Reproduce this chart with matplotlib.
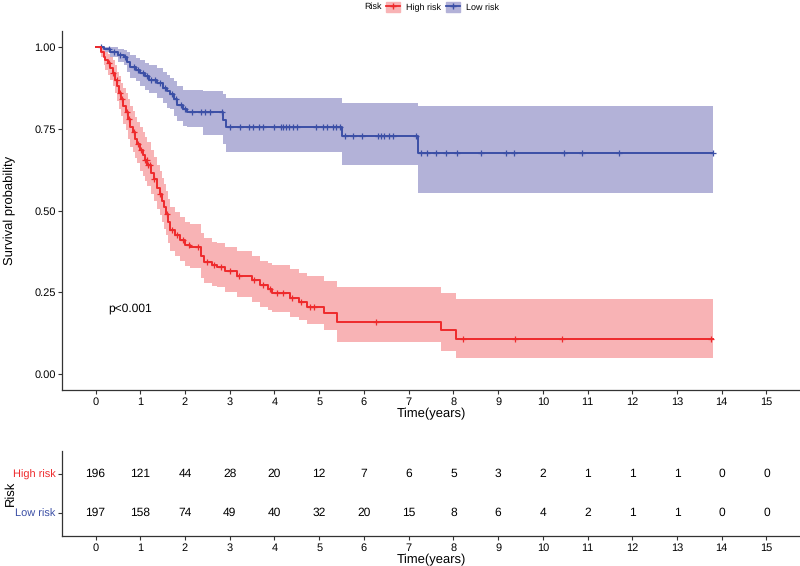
import numpy as np
import matplotlib.pyplot as plt
from matplotlib.patches import Patch
from matplotlib.lines import Line2D

plt.rcParams['font.family'] = ['Liberation Sans', 'DejaVu Sans']
plt.rcParams['text.hinting'] = 'no_hinting'
plt.rcParams['text.hinting_factor'] = 1

# Kaplan-Meier steps: (time, survival, lower CI, upper CI)
high_time = [0, 0.12, 0.18, 0.22, 0.28, 0.33, 0.38, 0.43, 0.48, 0.53, 0.58, 0.62, 0.67, 0.72,
             0.78, 0.83, 0.88, 0.93, 1.0, 1.05, 1.1, 1.15, 1.23, 1.3, 1.38, 1.43, 1.48, 1.53,
             1.58, 1.63, 1.67, 1.78, 1.88, 2.0, 2.12, 2.36, 2.42, 2.6, 2.72, 2.9, 3.16, 3.5,
             3.68, 3.85, 3.95, 4.35, 4.55, 4.72, 5.1, 5.39, 7.73, 8.07, 13.8]
high_surv = [1.0, 0.985, 0.97, 0.96, 0.95, 0.935, 0.92, 0.90, 0.88, 0.86, 0.84, 0.82, 0.80, 0.78,
             0.755, 0.74, 0.72, 0.705, 0.685, 0.67, 0.655, 0.64, 0.615, 0.595, 0.57, 0.55, 0.53, 0.51,
             0.49, 0.465, 0.44, 0.425, 0.41, 0.395, 0.39, 0.36, 0.343, 0.335, 0.328, 0.315, 0.30, 0.287,
             0.272, 0.26, 0.247, 0.232, 0.22, 0.205, 0.186, 0.16, 0.135, 0.107, 0.107]
high_lower = [1.0, 0.97, 0.945, 0.93, 0.915, 0.9, 0.88, 0.86, 0.835, 0.81, 0.79, 0.765, 0.745, 0.72,
              0.695, 0.68, 0.66, 0.645, 0.62, 0.605, 0.59, 0.575, 0.55, 0.53, 0.505, 0.485, 0.465, 0.445,
              0.425, 0.40, 0.375, 0.36, 0.345, 0.33, 0.325, 0.295, 0.28, 0.27, 0.265, 0.25, 0.235, 0.22,
              0.205, 0.197, 0.19, 0.175, 0.165, 0.153, 0.135, 0.098, 0.07, 0.049, 0.049]
high_upper = [1.0, 1.0, 0.995, 0.985, 0.98, 0.97, 0.96, 0.945, 0.925, 0.91, 0.89, 0.875, 0.86, 0.84,
              0.82, 0.805, 0.785, 0.77, 0.755, 0.74, 0.725, 0.71, 0.685, 0.665, 0.64, 0.62, 0.60, 0.58,
              0.56, 0.535, 0.51, 0.495, 0.48, 0.465, 0.46, 0.43, 0.415, 0.405, 0.40, 0.39, 0.375, 0.36,
              0.345, 0.34, 0.335, 0.32, 0.31, 0.30, 0.284, 0.266, 0.248, 0.23, 0.23]
high_censor = [0.3, 0.4, 0.47, 0.55, 0.6, 0.7, 0.75, 0.85, 0.95, 1.02, 1.1, 1.14, 1.18, 1.22, 1.3,
               1.45, 1.6, 1.7, 1.82, 1.95, 2.1, 2.3, 2.5, 2.65, 2.8, 3.0, 3.2, 3.55, 3.75, 3.9,
               4.05, 4.2, 4.4, 4.6, 4.8, 4.88, 6.28, 8.22, 9.38, 10.43, 13.77]

low_time = [0, 0.2, 0.33, 0.5, 0.63, 0.7, 0.78, 0.9, 1.0, 1.1, 1.2, 1.38, 1.5, 1.6, 1.67, 1.75,
            1.83, 1.95, 2.05, 2.4, 2.85, 2.92, 5.52, 7.22, 13.8]
low_surv = [1.0, 0.995, 0.985, 0.975, 0.97, 0.955, 0.94, 0.93, 0.92, 0.91, 0.90, 0.89, 0.875, 0.865,
            0.855, 0.84, 0.823, 0.81, 0.80, 0.80, 0.777, 0.755, 0.728, 0.676, 0.676]
low_lower = [1.0, 0.985, 0.97, 0.955, 0.945, 0.925, 0.905, 0.895, 0.88, 0.87, 0.86, 0.845, 0.83, 0.815,
             0.81, 0.79, 0.775, 0.76, 0.755, 0.73, 0.705, 0.68, 0.64, 0.554, 0.554]
low_upper = [1.0, 1.0, 1.0, 0.995, 0.99, 0.985, 0.975, 0.965, 0.96, 0.95, 0.945, 0.935, 0.925, 0.915,
             0.905, 0.895, 0.88, 0.87, 0.87, 0.865, 0.855, 0.843, 0.83, 0.82, 0.82]
low_censor = [0.12, 0.3, 0.42, 0.55, 0.66, 0.85, 0.95, 1.05, 1.15, 1.25, 1.33, 1.45, 1.55, 1.7, 1.8,
              1.9, 2.0, 2.15, 2.35, 2.45, 2.56, 2.83, 3.0, 3.23, 3.43, 3.52, 3.65, 3.74, 3.99,
              4.14, 4.19, 4.26, 4.32, 4.41, 4.5, 4.92, 5.08, 5.17, 5.3, 5.37, 5.46, 5.57, 5.75,
              5.95, 6.31, 6.38, 6.46, 6.55, 6.64, 7.17, 7.27, 7.4, 7.62, 7.84, 8.09, 8.62, 9.18,
              9.36, 10.47, 10.88, 11.7, 13.8]

table_times = list(range(16))
high_risk_n = [196, 121, 44, 28, 20, 12, 7, 6, 5, 3, 2, 1, 1, 1, 0, 0]
low_risk_n = [197, 158, 74, 49, 40, 32, 20, 15, 8, 6, 4, 2, 1, 1, 0, 0]

red, red_fill = '#EE2A2C', '#F8B3B5'
blue, blue_fill = '#3B4FA6', '#B3B2D8'
dark = '#333333'

fig = plt.figure(figsize=(8, 5.66), dpi=100)
ax = fig.add_axes([0.0775, 0.3102, 0.9225, 0.6356])
ax2 = fig.add_axes([0.0775, 0.0523, 0.9225, 0.1516])


def draw_group(t, s, lo, hi, cens, col, fcol):
    t = np.array(t)
    s = np.array(s)
    ax.fill_between(t, lo, hi, step='post', color=fcol, lw=0)
    ax.plot(t, s, drawstyle='steps-post', color=col, lw=1.4)
    idx = np.searchsorted(t, cens, side='right') - 1
    ax.plot(cens, s[idx], ls='none', marker='+', ms=5, mew=0.9, color=col)


draw_group(low_time, low_surv, low_lower, low_upper, low_censor, blue, blue_fill)
draw_group(high_time, high_surv, high_lower, high_upper, high_censor, red, red_fill)

for a in (ax, ax2):
    a.set_xlim(-0.75, 15.75)
    a.set_xticks(table_times)
    a.spines[['top', 'right']].set_visible(False)
    a.spines[['left', 'bottom']].set_color(dark)
    a.spines[['left', 'bottom']].set_linewidth(0.9)
    a.tick_params(colors=dark, labelcolor='black', labelsize=8, length=3, width=0.8, pad=1.5)
    a.set_xlabel('Time(years)', fontsize=9.5, labelpad=0.5)
    # y titles sit near the left edge of the figure
    a.yaxis.set_label_coords(-0.062, 0.5)

ax.set_ylim(-0.05, 1.05)
ax.set_yticks([0, 0.25, 0.5, 0.75, 1.0])
ax.set_yticklabels(['0.00', '0.25', '0.50', '0.75', '1.00'])
ax.set_ylabel('Survival probability', fontsize=9.5)
ax.text(0.29, 0.2, 'p<0.001', fontsize=8.8, va='center', ha='left')

# risk table
ax2.set_ylim(0.4, 2.6)
ax2.set_yticks([2, 1])
ax2.set_yticklabels(['High risk', 'Low risk'], fontsize=8)
ax2.get_yticklabels()[0].set_color(red)
ax2.get_yticklabels()[1].set_color(blue)
ax2.set_ylabel('Risk', fontsize=9.5)
for t, h, l in zip(table_times, high_risk_n, low_risk_n):
    ax2.text(t, 2, str(h), ha='center', va='center', fontsize=8.5)
    ax2.text(t, 1, str(l), ha='center', va='center', fontsize=8.5)

# legend at the top
fig.text(364 / 800, 1 - 7 / 566, 'Risk', fontsize=6.5, va='center', ha='left')
handles = [(Patch(color=red_fill), Line2D([], [], color=red, lw=1.3, marker='+', ms=5)),
           (Patch(color=blue_fill), Line2D([], [], color=blue, lw=1.3, marker='+', ms=5))]
fig.legend(handles, ['High risk', 'Low risk'], ncol=2, frameon=False, fontsize=6.5,
           loc='center left', bbox_to_anchor=(386 / 800, 1 - 7 / 566),
           handlelength=1.55, handleheight=1.3, handletextpad=0.65, columnspacing=0.55,
           borderaxespad=0, borderpad=0)

fig.savefig('out.png', dpi=100)
